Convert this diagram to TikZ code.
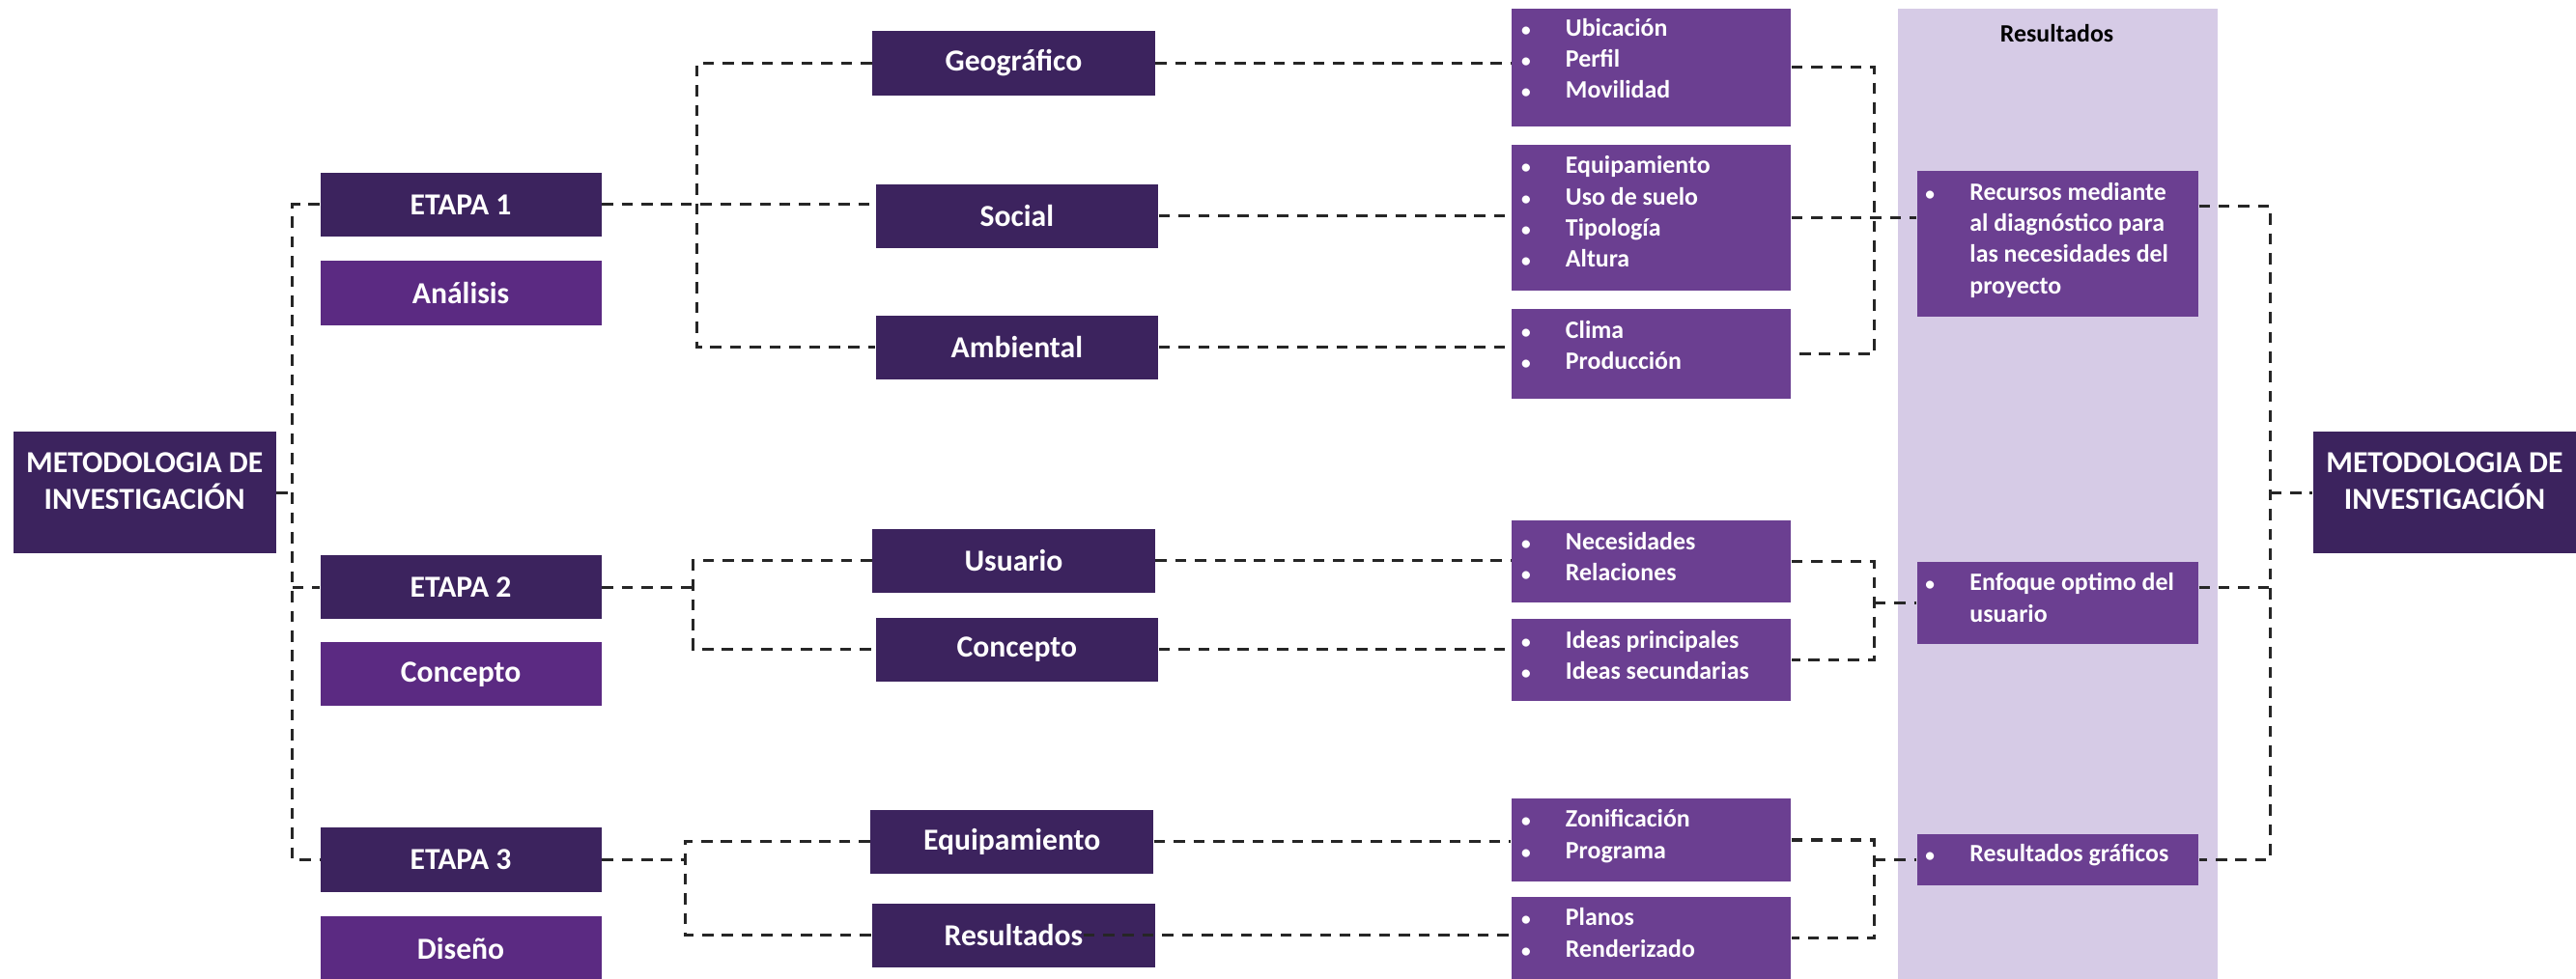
\documentclass[tikz,border=0pt]{standalone}
\usepackage{fontspec}
\usepackage{graphicx}
\setmainfont{Carlito}
\usetikzlibrary{calc}

\definecolor{darkpur}{RGB}{60,35,94}
\definecolor{stagepur}{RGB}{91,42,130}
\definecolor{listpur}{RGB}{107,63,145}
\definecolor{colbg}{RGB}{214,203,230}
\definecolor{linecol}{RGB}{38,38,38}

\newcommand{\bl}[1]{\makebox[12pt][l]{\hspace{-1.5pt}\scalebox{0.75}{\textbullet}}#1}
\newcommand{\bi}{\hspace*{12pt}}
\newcommand{\lst}[3][1]{\raisebox{#1pt}[\height][\depth]{\parbox{#2pt}{\strut#3\strut}}}

\begin{document}
\begin{tikzpicture}[x=0.5pt,y=-0.5pt,
    darkbox/.style={fill=darkpur,text=white,inner sep=0pt,minimum width=85.5pt,minimum height=19.5pt,font=\bfseries\fontsize{9.3}{11}\selectfont},
    stagebox/.style={darkbox,fill=stagepur},
    listbox/.style={fill=listpur,text=white,inner sep=0pt,minimum width=85pt,font=\bfseries\fontsize{7.6}{9.5}\selectfont},
    link/.style={draw=linecol,line width=0.9pt,dash pattern=on 3.4pt off 2.6pt}]
    \useasboundingbox (0,0) rectangle (1568,596);
    \fill[colbg] (1155,5) rectangle (1350,600);

    \node[darkbox,minimum width=80pt,minimum height=37pt] (metL) at (88,300) {\raisebox{3.5pt}[\height][\depth]{\parbox{80pt}{\centering METODOLOGIA DE\\INVESTIGACIÓN}}};
    \node[darkbox,minimum width=80pt,minimum height=37pt] (metR) at (1488,300) {\raisebox{3.5pt}[\height][\depth]{\parbox{80pt}{\centering METODOLOGIA DE\\INVESTIGACIÓN}}};

    \node[darkbox] (e1) at (280.5,124.5) {ETAPA 1};
    \node[stagebox] (an) at (280.5,178.5) {Análisis};
    \node[darkbox] (e2) at (280.5,357.5) {ETAPA 2};
    \node[stagebox] (cp) at (280.5,410.5) {Concepto};
    \node[darkbox] (e3) at (280.5,523.5) {ETAPA 3};
    \node[stagebox] (ds) at (280.5,577.5) {Diseño};

    \node[darkbox,minimum width=86pt] (geo) at (617,38.5) {Geográfico};
    \node[darkbox,minimum width=86pt] (soc) at (619,131.5) {Social};
    \node[darkbox,minimum width=86pt] (amb) at (619,211.5) {Ambiental};
    \node[darkbox,minimum width=86pt] (usu) at (617,341.5) {Usuario};
    \node[darkbox,minimum width=86pt] (con) at (619,395.5) {Concepto};
    \node[darkbox,minimum width=86pt] (equ) at (616,512.5) {Equipamiento};
    \node[darkbox,minimum width=86pt] (res) at (617,569.5) {Resultados};

    \node[listbox,minimum height=36pt] (l1) at (1005,41) {\lst[2]{76}{\bl{Ubicación}\\\bl{Perfil}\\\bl{Movilidad}}};
    \node[listbox,minimum height=44.5pt] (l2) at (1005,132.5) {\lst{76}{\bl{Equipamiento}\\\bl{Uso de suelo}\\\bl{Tipología}\\\bl{Altura}}};
    \node[listbox,minimum height=27.5pt] (l3) at (1005,215.5) {\lst[2]{76}{\bl{Clima}\\\bl{Producción}}};
    \node[listbox,minimum height=25pt] (l4) at (1005,342) {\lst[0.75]{76}{\bl{Necesidades}\\\bl{Relaciones}}};
    \node[listbox,minimum height=25pt] (l5) at (1005,402) {\lst[0.75]{76}{\bl{Ideas principales}\\\bl{Ideas secundarias}}};
    \node[listbox,minimum height=25.5pt] (l6) at (1005,511.5) {\lst{76}{\bl{Zonificación}\\\bl{Programa}}};
    \node[listbox,minimum height=25pt] (l7) at (1005,571) {\lst[0.75]{76}{\bl{Planos}\\\bl{Renderizado}}};

    \node[font=\bfseries\fontsize{7.6}{9.5}\selectfont] (hdr) at (1252,20) {Resultados};
    \node[listbox,minimum width=85.5pt,minimum height=44.5pt] (r1) at (1252.5,148.5) {\lst{77.5}{\bl{Recursos mediante}\\\bi al diagnóstico para\\\bi las necesidades del\\\bi proyecto}};
    \node[listbox,minimum width=85.5pt,minimum height=25pt] (r2) at (1252.5,367) {\lst[0.75]{77.5}{\bl{Enfoque optimo del}\\\bi usuario}};
    \node[listbox,minimum width=85.5pt,minimum height=15.5pt] (r3) at (1252.5,523.5) {\lst[1.25]{77.5}{\bl{Resultados gráficos}}};

    \coordinate (busA) at (178,0);
    \coordinate (busB) at (424,0);
    \coordinate (busC) at (422,0);
    \coordinate (busD) at (417,0);
    \coordinate (busE) at (1141,0);
    \coordinate (busF) at (1382,0);

    % etapas
    \draw[link] (e1.west) -- (e1.west -| busA) -- (e3.west -| busA) -- (e3.west);
    \draw[link] (metL.east) -- (metL.east -| busA);
    \draw[link] (e2.west -| busA) -- (e2.west);

    \draw[link] (e1.east) -- (e1.east -| soc.west);
    \draw[link] (geo.west) -- (geo.west -| busB) -- (amb.west -| busB) -- (amb.west);
    \draw[link] (e2.east) -- (e2.east -| busC);
    \draw[link] (usu.west) -- (usu.west -| busC) -- (con.west -| busC) -- (con.west);
    \draw[link] (e3.east) -- (e3.east -| busD);
    \draw[link] (equ.west) -- (equ.west -| busD) -- (res.west -| busD) -- (res.west);

    \draw[link] (geo.east) -- (geo.east -| l1.west);
    \draw[link] (soc.east) -- (soc.east -| l2.west);
    \draw[link] (amb.east) -- (amb.east -| l3.west);
    \draw[link] (usu.east) -- (usu.east -| l4.west);
    \draw[link] (con.east) -- (con.east -| l5.west);
    \draw[link] (equ.east) -- (equ.east -| l6.west);
    \draw[link] ($(res.east)+(-44,0)$) -- (res.east -| l7.west);

    % resultados
    \draw[link] (l1.east) -- (l1.east -| busE) -- (l3.east -| busE) -- (l3.east);
    \draw[link] (l2.east) -- (l2.east -| r1.west);
    \draw[link] (l4.east) -- (l4.east -| busE) -- (l5.east -| busE) -- (l5.east);
    \draw[link] (busE |- r2.west) -- (r2.west);
    \draw[link] (l6.east) -- (l6.east -| busE) -- (l7.east -| busE) -- (l7.east);
    \draw[link] (busE |- r3.west) -- (r3.west);

    \coordinate (r1o) at ($(r1.north east)+(0,22)$);
    \coordinate (r2o) at ($(r2.north east)+(0,16)$);
    \draw[link] (r1o) -- (r1o -| busF) -- (r3.east -| busF) -- (r3.east);
    \draw[link] (r2o) -- (r2o -| busF);
    \draw[link] (busF |- metR.west) -- (metR.west);
\end{tikzpicture}
\end{document}
